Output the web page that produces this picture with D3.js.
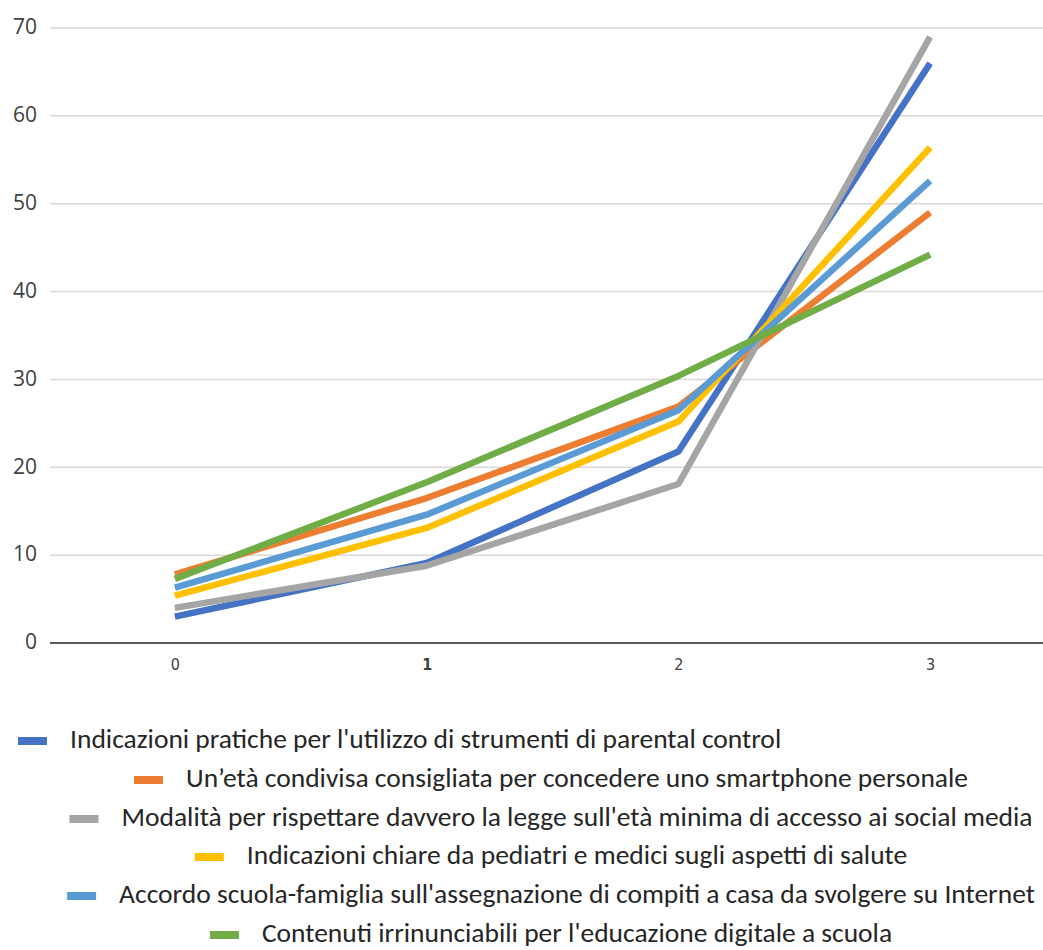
<!DOCTYPE html>
<html>
<head>
<meta charset="utf-8">
<script src="https://cdn.jsdelivr.net/npm/d3@7"></script>
<style>
  html, body { margin: 0; padding: 0; background: #fff; }
  svg { display: block; }
</style>
</head>
<body>
<svg id="chart" width="1043" height="950"></svg>
<script>
// Categories on the x axis
const categories = ["0", "1", "2", "3"];

// Series names (legend order)
const seriesNames = [
  "Indicazioni pratiche per l'utilizzo di strumenti di parental control",
  "Un’età condivisa consigliata per concedere uno smartphone personale",
  "Modalità per rispettare davvero la legge sull'età minima di accesso ai social media",
  "Indicazioni chiare da pediatri e medici sugli aspetti di salute",
  "Accordo scuola-famiglia sull'assegnazione di compiti a casa da svolgere su Internet",
  "Contenuti irrinunciabili per l'educazione digitale a scuola"
];

// Values per series, one per category
const parentalControl = [3.0, 9.1, 21.8, 66.0];
const smartphoneAge   = [7.8, 16.5, 26.9, 49.0];
const socialMediaLaw  = [4.0, 8.8, 18.1, 69.0];
const healthAdvice    = [5.4, 13.1, 25.2, 56.4];
const homeworkOnline  = [6.3, 14.6, 26.5, 52.6];
const digitalSchool   = [7.3, 18.3, 30.4, 44.2];

const seriesValues = [parentalControl, smartphoneAge, socialMediaLaw, healthAdvice, homeworkOnline, digitalSchool];
const seriesColors = ["#4472C4", "#ED7D31", "#A5A5A5", "#FFC000", "#5B9BD5", "#70AD47"];

const yTicks = [0, 10, 20, 30, 40, 50, 60, 70];

const svg = d3.select("#chart");
const W = 1043;

const plotTop = 28, plotBottom = 643;
const x = d3.scalePoint().domain(categories).range([49, 1056]).padding(0.5);
const y = d3.scaleLinear().domain([0, 70]).range([plotBottom, plotTop]);

const fontTick = "'Open Sans', 'Noto Sans', sans-serif";
const fontLegend = "Carlito, Lato, 'Open Sans', sans-serif";

// Horizontal gridlines
svg.append("g")
  .selectAll("line")
  .data(yTicks.filter(d => d > 0))
  .join("line")
  .attr("x1", 50).attr("x2", W)
  .attr("y1", d => y(d)).attr("y2", d => y(d))
  .attr("stroke", "#d9d9d9").attr("stroke-width", 1.5);

// Y axis labels
const yAxis = d3.axisLeft(y).tickValues(yTicks).tickSize(0).tickPadding(0);
const yg = svg.append("g").attr("transform", "translate(37,-1)").call(yAxis);
yg.select(".domain").remove();
yg.selectAll("text")
  .attr("font-family", fontTick).attr("font-size", 21).attr("fill", "#404040");

// Baseline at zero
svg.append("line")
  .attr("x1", 50).attr("x2", W)
  .attr("y1", y(0)).attr("y2", y(0))
  .attr("stroke", "#595959").attr("stroke-width", 2);

// X axis labels
const xAxis = d3.axisBottom(x).tickSize(0).tickPadding(16);
const xg = svg.append("g").attr("transform", `translate(0,${y(0)})`).call(xAxis);
xg.select(".domain").remove();
xg.selectAll("text")
  .attr("font-family", "'Liberation Sans Narrow', 'DejaVu Sans Condensed', sans-serif")
  .attr("font-size", 16).attr("fill", "#404040")
  .attr("font-weight", d => d === "1" ? "bold" : "normal");

// Series lines
const line = d3.line()
  .x((d, i) => x(categories[i]))
  .y(d => y(d));

svg.append("g")
  .selectAll("path")
  .data(seriesValues)
  .join("path")
  .attr("d", d => line(d))
  .attr("fill", "none")
  .attr("stroke", (d, i) => seriesColors[i])
  .attr("stroke-width", 6.5)
  .attr("stroke-linejoin", "round");

// Legend: one entry per row, text baselines
const legendBaseY = [748, 787, 826, 864, 903, 942];
const legend = svg.append("g");
const swW = 29, swH = 8, gap = 23;
seriesNames.forEach((name, i) => {
  const g = legend.append("g");
  const t = g.append("text")
    .attr("font-family", fontLegend)
    .attr("font-size", 27.5)
    .attr("fill", "#262626")
    .attr("y", legendBaseY[i])
    .text(name);
  const tw = t.node().getComputedTextLength();
  const total = swW + gap + tw;
  const left = i === 0 ? 18 : 551 - total / 2;
  g.append("rect")
    .attr("x", left).attr("y", legendBaseY[i] - 11)
    .attr("width", swW).attr("height", swH)
    .attr("fill", seriesColors[i]);
  t.attr("x", left + swW + gap);
});
</script>
</body>
</html>
